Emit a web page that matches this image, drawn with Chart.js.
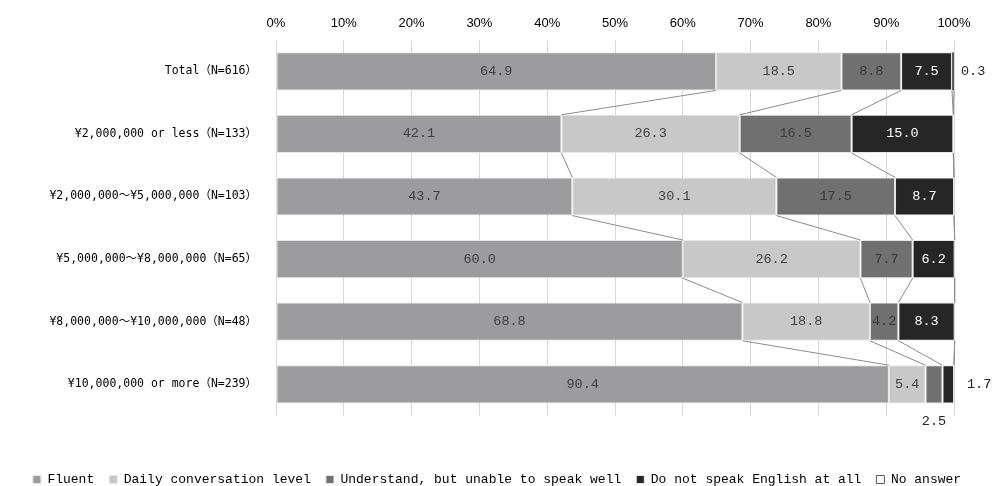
<!DOCTYPE html>
<html>
<head>
<meta charset="utf-8">
<script src="https://cdn.jsdelivr.net/npm/chart.js@4.4.1/dist/chart.umd.min.js"></script>
<style>
  html, body { margin: 0; padding: 0; background: #fff; }
  #wrap { width: 994px; height: 486px; }
</style>
</head>
<body>
<div id="wrap"><canvas id="englishChart"></canvas></div>
<script>
// categories and series values (%)
const categories = [
    'Total（N=616）',
    '¥2,000,000 or less（N=133）',
    '¥2,000,000～¥5,000,000（N=103）',
    '¥5,000,000～¥8,000,000（N=65）',
    '¥8,000,000～¥10,000,000（N=48）',
    '¥10,000,000 or more（N=239）'
];
const fluent = [64.9, 42.1, 43.7, 60.0, 68.8, 90.4];
const dailyConversation = [18.5, 26.3, 30.1, 26.2, 18.8, 5.4];
const understandOnly = [8.8, 16.5, 17.5, 7.7, 4.2, 2.5];
const doNotSpeak = [7.5, 15.0, 8.7, 6.2, 8.3, 1.7];
const noAnswer = [0.3, 0, 0, 0, 0, 0];
const xTicks = [0, 10, 20, 30, 40, 50, 60, 70, 80, 90, 100];

const monoFont = "'DejaVu Sans Mono', 'Liberation Mono', 'Noto Sans CJK JP', monospace";
const labelFont = "'Liberation Mono', 'DejaVu Sans Mono', monospace";

// lines joining the segment ends of neighbouring bars
const seriesLines = {
    id: 'seriesLines',
    afterDatasetsDraw(chart) {
        const ctx = chart.ctx;
        ctx.save();
        ctx.strokeStyle = '#8c8c8c';
        ctx.lineWidth = 1;
        chart.data.datasets.forEach((ds, k) => {
            const bars = chart.getDatasetMeta(k).data;
            for (let i = 0; i < bars.length - 1; i++) {
                const a = bars[i], b = bars[i + 1];
                ctx.beginPath();
                ctx.moveTo(a.x, a.y + a.height / 2);
                ctx.lineTo(b.x, b.y - b.height / 2);
                ctx.stroke();
            }
        });
        ctx.restore();
    }
};

// value labels
const valueLabels = {
    id: 'valueLabels',
    afterDatasetsDraw(chart) {
        const ctx = chart.ctx;
        ctx.save();
        ctx.font = '13.5px ' + labelFont;
        ctx.textBaseline = 'middle';
        chart.data.datasets.forEach((ds, k) => {
            const bars = chart.getDatasetMeta(k).data;
            bars.forEach((bar, i) => {
                const v = ds.data[i];
                if (!v) return;
                const text = v.toFixed(1);
                if (v >= 3) {
                    ctx.fillStyle = ds.labelColor;
                    ctx.textAlign = 'center';
                    ctx.fillText(text, (bar.x + bar.base) / 2, bar.y);
                } else if (k === 2) {
                    ctx.fillStyle = '#262626';
                    ctx.textAlign = 'center';
                    ctx.fillText(text, (bar.x + bar.base) / 2, bar.y + bar.height / 2 + 18);
                } else {
                    ctx.fillStyle = '#262626';
                    ctx.textAlign = 'left';
                    ctx.fillText(text, chart.chartArea.right + (k === 4 ? 7 : 13), bar.y);
                }
            });
        });
        ctx.restore();
    }
};

const ctx = document.getElementById('englishChart').getContext('2d');
new Chart(ctx, {
    type: 'bar',
    data: {
        labels: categories,
        datasets: [
            { label: 'Fluent', data: fluent, backgroundColor: '#9c9c9e', borderColor: '#e6e6e6', labelColor: '#404040' },
            { label: 'Daily conversation level', data: dailyConversation, backgroundColor: '#c9c8c9', borderColor: '#e6e6e6', labelColor: '#404040' },
            { label: 'Understand, but unable to speak well', data: understandOnly, backgroundColor: '#707070', borderColor: '#e6e6e6', labelColor: '#3a3a3a' },
            { label: 'Do not speak English at all', data: doNotSpeak, backgroundColor: '#262626', borderColor: '#e6e6e6', labelColor: '#ffffff' },
            { label: 'No answer', data: noAnswer, backgroundColor: '#ffffff', borderColor: '#595959', labelColor: '#262626' }
        ]
    },
    options: {
        indexAxis: 'y',
        responsive: true,
        maintainAspectRatio: false,
        animation: false,
        datasets: {
            bar: {
                categoryPercentage: 1,
                barPercentage: 0.61,
                borderWidth: 1,
                borderSkipped: false
            }
        },
        layout: {
            padding: { left: 0, right: 0, top: 0, bottom: -10 }
        },
        scales: {
            x: {
                position: 'top',
                stacked: true,
                min: 0,
                max: 100,
                afterBuildTicks: (scale) => {
                    scale.ticks = xTicks.map(v => ({ value: v }));
                },
                afterFit: (scale) => {
                    scale.height = 40;
                    scale.paddingRight = 40;
                },
                grid: { color: '#d9d9d9', drawTicks: false },
                border: { display: false },
                ticks: {
                    padding: 9,
                    color: '#000',
                    font: { family: "'Liberation Sans Narrow', 'Liberation Sans', sans-serif", size: 13 },
                    callback: (v) => v + '%'
                }
            },
            y: {
                stacked: true,
                afterFit: (scale) => { scale.width = 276; },
                grid: { display: false },
                border: { display: false },
                ticks: {
                    padding: 11,
                    color: '#000',
                    font: { family: monoFont, size: 11.5 }
                }
            }
        },
        plugins: {
            legend: {
                position: 'bottom',
                title: {
                    display: true,
                    text: '',
                    font: { size: 12 },
                    padding: { top: 0, bottom: 28 }
                },
                labels: {
                    boxWidth: 8,
                    boxHeight: 8,
                    padding: 15,
                    color: '#000',
                    font: { family: labelFont, size: 13 }
                }
            },
            tooltip: { enabled: false }
        }
    },
    plugins: [seriesLines, valueLabels]
});
</script>
</body>
</html>
